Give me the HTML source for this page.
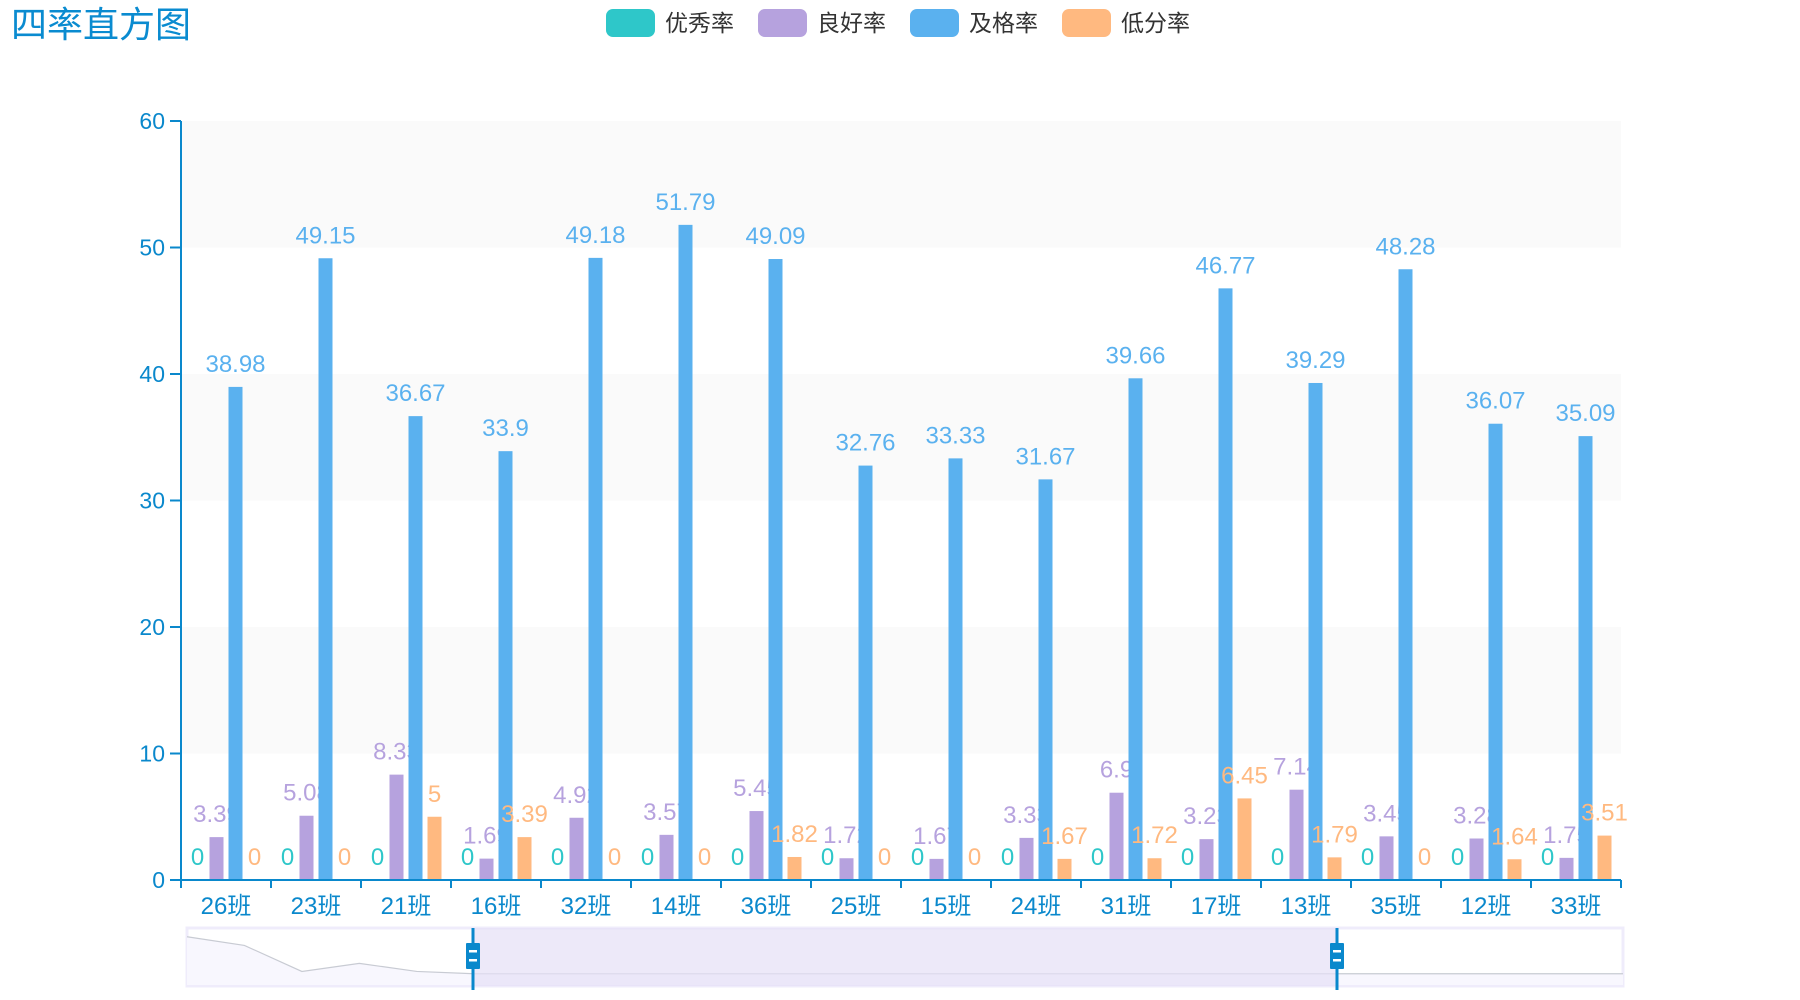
<!DOCTYPE html>
<html><head><meta charset="utf-8">
<style>
html,body{margin:0;padding:0;background:#fff;width:1800px;height:1000px;overflow:hidden}
svg{display:block;font-family:"Liberation Sans","Noto Sans CJK SC",sans-serif}
</style></head>
<body>
<svg id="chart" width="1800" height="1000" viewBox="0 0 1800 1000">
<text x="11" y="37" font-size="36" fill="#0a8bd0">四率直方图</text>
<g id="legend"></g>
<g id="grid"></g>
<g id="bars"></g>
<g id="axes"></g>
<g id="zoom"></g>
</svg>
<script>
const categories=["26班","23班","21班","16班","32班","14班","36班","25班","15班","24班","31班","17班","13班","35班","12班","33班"];
const seriesNames=["优秀率","良好率","及格率","低分率"];
const excellent=[0,0,0,0,0,0,0,0,0,0,0,0,0,0,0,0];
const good=[3.39,5.08,8.33,1.69,4.92,3.57,5.45,1.72,1.67,3.33,6.9,3.23,7.14,3.45,3.28,1.75];
const pass=[38.98,49.15,36.67,33.9,49.18,51.79,49.09,32.76,33.33,31.67,39.66,46.77,39.29,48.28,36.07,35.09];
const low=[0,0,5,3.39,0,0,1.82,0,0,1.67,1.72,6.45,1.79,0,1.64,3.51];
const yTicks=[0,10,20,30,40,50,60];
const shadowValues=[8,6.5,2,3.4,2,1.6,1.6,1.6,1.6,1.6,1.6,1.6,1.6,1.6,1.6,1.6,1.6,1.6,1.6,1.6,1.6,1.6,1.6,1.6,1.6,1.6];

const NS="http://www.w3.org/2000/svg";
function mk(tag,attrs,parent){const e=document.createElementNS(NS,tag);for(const k in attrs)e.setAttribute(k,attrs[k]);parent.appendChild(e);return e;}
const colors=["#2ec7c9","#b6a2de","#5ab1ef","#ffb980"];
const allSeries=[excellent,good,pass,low];
const L=181,R=1621,T=121,B=880,yMax=60;
const bandW=(R-L)/categories.length;
function xBand(i){return L+i*bandW;}
function y(v){return B-(v/yMax)*(B-T);}

const lg=document.getElementById('legend');
seriesNames.forEach((n,i)=>{
  const x0=606+i*152;
  const r=mk('rect',{x:x0,y:9,width:49,height:28,rx:7,fill:colors[i]},lg);
  
  
  const t=mk('text',{x:x0+59,y:31,'font-size':23,fill:'#333'},lg);
  t.textContent=n;
  
  
});

const grid=document.getElementById('grid');
for(let k=0;k<yTicks.length-1;k++){
  const a=yTicks[k],b=yTicks[k+1];
  const r=mk('rect',{x:L,y:y(b),width:R-L,height:y(a)-y(b),fill:(k%2===1)?'#fafafa':'#ffffff'},grid);
  
  
}

const bg=document.getElementById('bars');
const bw=14,gap=5,groupW=4*bw+3*gap;
allSeries.forEach((s,si)=>{
  const g=mk('g',{},bg);
  
  
  s.forEach((v,i)=>{
    const cx=xBand(i)+bandW/2;
    const x=cx-groupW/2+si*(bw+gap);
    const r=mk('rect',{x:x,y:y(v),width:bw,height:B-y(v),fill:colors[si]},g);
    
    
    const t=mk('text',{x:x+bw/2,y:y(v)-15,'font-size':24,fill:colors[si],'text-anchor':'middle'},g);
    t.textContent=String(v);
    
    
  });
});

const ax=document.getElementById('axes');
const axc='#0a88cc';
const yl=mk('line',{x1:L,y1:T,x2:L,y2:B,stroke:axc,'stroke-width':2},ax);


yTicks.forEach(v=>{
  mk('line',{x1:L-11,y1:y(v),x2:L,y2:y(v),stroke:axc,'stroke-width':2},ax);
  const t=mk('text',{x:L-16,y:y(v)+8,'font-size':23,fill:axc,'text-anchor':'end'},ax);
  t.textContent=v;
  
  
});
const xl=mk('line',{x1:L,y1:B,x2:R,y2:B,stroke:axc,'stroke-width':2},ax);


for(let i=0;i<=categories.length;i++){
  mk('line',{x1:xBand(i),y1:B,x2:xBand(i),y2:B+8,stroke:axc,'stroke-width':2},ax);
}
categories.forEach((c,i)=>{
  const t=mk('text',{x:xBand(i)+bandW/2,y:914,'font-size':24,fill:axc,'text-anchor':'middle'},ax);
  t.textContent=c;
  
  
});

const z=document.getElementById('zoom');
const zL=187,zR=1623,zT=928,zB=986,h1=473,h2=1337;
mk('rect',{x:zL,y:zT,width:zR-zL,height:zB-zT,fill:'#fff',stroke:'#efecfb','stroke-width':3},z);
const sx=i=>zL+i*(zR-zL)/(shadowValues.length-1);
const sy=v=>zB-3-v/9*(zB-zT-6);
let pts=shadowValues.map((v,i)=>sx(i)+','+sy(v)).join(' ');
mk('polygon',{points:zL+','+(zB-1)+' '+pts+' '+zR+','+(zB-1),fill:'#f8f7fe'},z);
const sl=mk('polyline',{points:pts,fill:'none',stroke:'#c8cbd3','stroke-width':1.2},z);


const sel=mk('rect',{x:h1,y:zT,width:h2-h1,height:zB-zT,fill:'#e6e0f6','fill-opacity':0.7},z);


[h1,h2].forEach((hx,k)=>{
  mk('line',{x1:hx,y1:zT,x2:hx,y2:zB+4,stroke:axc,'stroke-width':3},z);
  const hr=mk('rect',{x:hx-7,y:943,width:14,height:26,rx:1,fill:axc},z);
  
  
  mk('rect',{x:hx-4,y:950,width:8,height:2.5,fill:'#fff'},z);
  mk('rect',{x:hx-4,y:959,width:8,height:2.5,fill:'#fff'},z);
});
</script>
</body></html>
